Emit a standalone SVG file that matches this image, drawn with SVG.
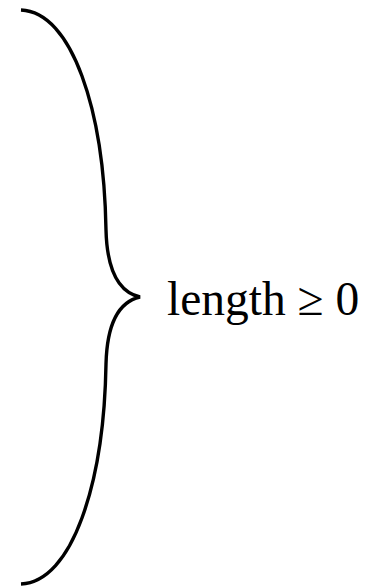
<svg xmlns="http://www.w3.org/2000/svg" width="370" height="587" viewBox="0 0 370 587">
<style>
.brace{fill:none;stroke:#000;stroke-width:3.4;stroke-linecap:butt}
.lbl{font-family:"Liberation Serif","Times New Roman",serif;font-size:47.5px;fill:#000}
</style>
<rect width="370" height="587" fill="#fff"/>
<g id="brace">
<path class="brace" d="M21,10 C72,12 104,110 106,230 C107,270 118,292 140,297 C118,302 107,324 106,364 C104,484 72,582 21,584"/>
</g>
<g id="label">
<text class="lbl" x="167" y="315">length ≥ 0</text>
</g>
</svg>
